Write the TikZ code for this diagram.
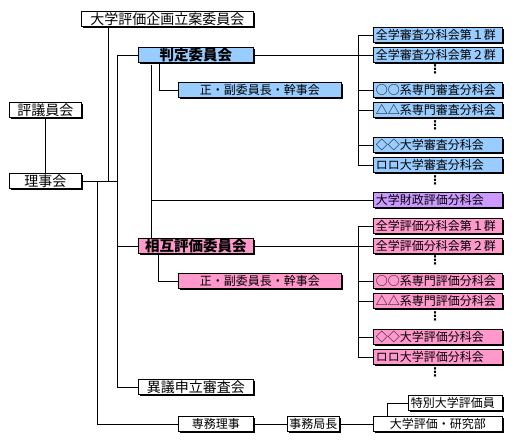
\documentclass[tikz,border=0pt]{standalone}
\usepackage{fontspec}
\setmainfont{Noto Sans CJK JP}
\newfontfamily\dejavu{DejaVu Sans}
\usetikzlibrary{shadows}
\definecolor{cblue}{HTML}{99CCFF}
\definecolor{cpink}{HTML}{FF99CC}
\definecolor{cpurple}{HTML}{CC99FF}
\tikzset{
  bx/.style={draw, line width=0.9pt, fill=white, anchor=north west, inner sep=0pt,
    minimum height=15, font=\fontsize{12}{12}\selectfont,
    drop shadow={shadow xshift=1.3pt, shadow yshift=-1.3pt, opacity=1, fill=black}},
  big/.style={font=\fontsize{14}{14}\selectfont},
  bigb/.style={font=\fontsize{14.5}{14.5}\selectfont\bfseries},
  lft/.style={text width=#1, align=left, inner xsep=2.5pt},
  conn/.style={line width=0.9pt},
  vdots/.style={font=\dejavu\bfseries\fontsize{12}{12}\selectfont, inner sep=0pt}
}
\begin{document}
\begin{tikzpicture}[x=1pt,y=-1pt]
\useasboundingbox (0,0) rectangle (515,440);
% left / centre column
\node[bx,big,minimum width=172] (plan) at (81,11) {大学評価企画立案委員会};
\node[bx,bigb,fill=cblue,minimum width=115] (hantei) at (138,47) {判定委員会};
\node[bx,big,minimum width=72] (hyogi) at (9,102) {評議員会};
\node[bx,big,minimum width=72] (riji) at (9,173) {理事会};
\node[bx,fill=cblue,minimum width=163] (hs) at (178,82) {正・副委員長・幹事会};
\node[bx,bigb,fill=cpink,minimum width=115] (sogo) at (138,238) {相互評価委員会};
\node[bx,fill=cpink,minimum width=163] (ss) at (178,273) {正・副委員長・幹事会};
\node[bx,big,minimum width=115] (igi) at (138,379) {異議申立審査会};
\node[bx,minimum width=75] (senmu) at (178,416) {専務理事};
\node[bx,minimum width=52] (kyoku) at (287,416) {事務局長};
\node[bx,minimum width=129] (kenkyu) at (373,416) {大学評価・研究部};
\node[bx,lft=89,minimum width=94] (tokubetsu) at (408,395) {特別大学評価員};
% right column, blue
\node[bx,lft=124,fill=cblue,minimum width=129] (b1) at (373,27) {全学審査分科会第１群};
\node[bx,lft=124,fill=cblue,minimum width=129] (b2) at (373,47) {全学審査分科会第２群};
\node[bx,lft=124,fill=cblue,minimum width=129] (b3) at (373,82) {○○系専門審査分科会};
\node[bx,lft=124,fill=cblue,minimum width=129] (b4) at (373,102) {△△系専門審査分科会};
\node[bx,lft=124,fill=cblue,minimum width=129] (b5) at (373,137) {◇◇大学審査分科会};
\node[bx,lft=124,fill=cblue,minimum width=129] (b6) at (373,157) {ロロ大学審査分科会};
\node[bx,lft=124,fill=cpurple,minimum width=129] (zaisei) at (373,192) {大学財政評価分科会};
% right column, pink
\node[bx,lft=124,fill=cpink,minimum width=129] (p1) at (373,218) {全学評価分科会第１群};
\node[bx,lft=124,fill=cpink,minimum width=129] (p2) at (373,238) {全学評価分科会第２群};
\node[bx,lft=124,fill=cpink,minimum width=129] (p3) at (373,273) {○○系専門評価分科会};
\node[bx,lft=124,fill=cpink,minimum width=129] (p4) at (373,293) {△△系専門評価分科会};
\node[bx,lft=124,fill=cpink,minimum width=129] (p5) at (373,329) {◇◇大学評価分科会};
\node[bx,lft=124,fill=cpink,minimum width=129] (p6) at (373,349) {ロロ大学評価分科会};
% vertical dots
\node[vdots] (d1) at (435,69) {⋮};
\node[vdots] (d2) at (435,125) {⋮};
\node[vdots] (d3) at (435,180) {⋮};
\node[vdots] (d4) at (435,260) {⋮};
\node[vdots] (d5) at (435,316) {⋮};
\node[vdots] (d6) at (435,372) {⋮};
% helper coordinates
\coordinate (tx) at (117,0);
\coordinate (c1) at (108,181);
\coordinate (c2) at (97,181);
\coordinate (h1) at (159,0);
\coordinate (h2) at (151,65);
\coordinate (h3) at (158,0);
\coordinate (bxx) at (358,0);
\coordinate (k1) at (387,0);
% connectors
\begin{scope}[conn]
\draw (hyogi) -- (riji);
\draw (riji.east |- c1) -- (c1 -| tx);
\draw (plan.south -| c1) -- (c1);
\draw (c2) |- (senmu.west);
\draw (hantei.west) -- (hantei.west -| tx) -- (igi.west -| tx) -- (igi.west);
\draw (sogo.west -| tx) -- (sogo.west);
\draw (hantei.south -| h1) |- (hs.west);
\draw (h2) -- (h2 |- sogo.north);
\draw (h2 |- zaisei.west) -- (zaisei.west);
\draw (hantei.east) -- (b2.west);
\draw (b1.west) -| (b6.west -| bxx) -- (b6.west);
\draw (b3.west -| bxx) -- (b3.west);
\draw (b4.west -| bxx) -- (b4.west);
\draw (b5.west -| bxx) -- (b5.west);
\draw (sogo.south -| h3) |- (ss.west);
\draw (sogo.east) -- (p2.west);
\draw (p1.west) -| (p6.west -| bxx) -- (p6.west);
\draw (p3.west -| bxx) -- (p3.west);
\draw (p4.west -| bxx) -- (p4.west);
\draw (p5.west -| bxx) -- (p5.west);
\draw (senmu.east) -- (kyoku.west);
\draw (kyoku.east) -- (kenkyu.west);
\draw (kenkyu.north -| k1) |- (tokubetsu.west);
\end{scope}
\end{tikzpicture}
\end{document}
